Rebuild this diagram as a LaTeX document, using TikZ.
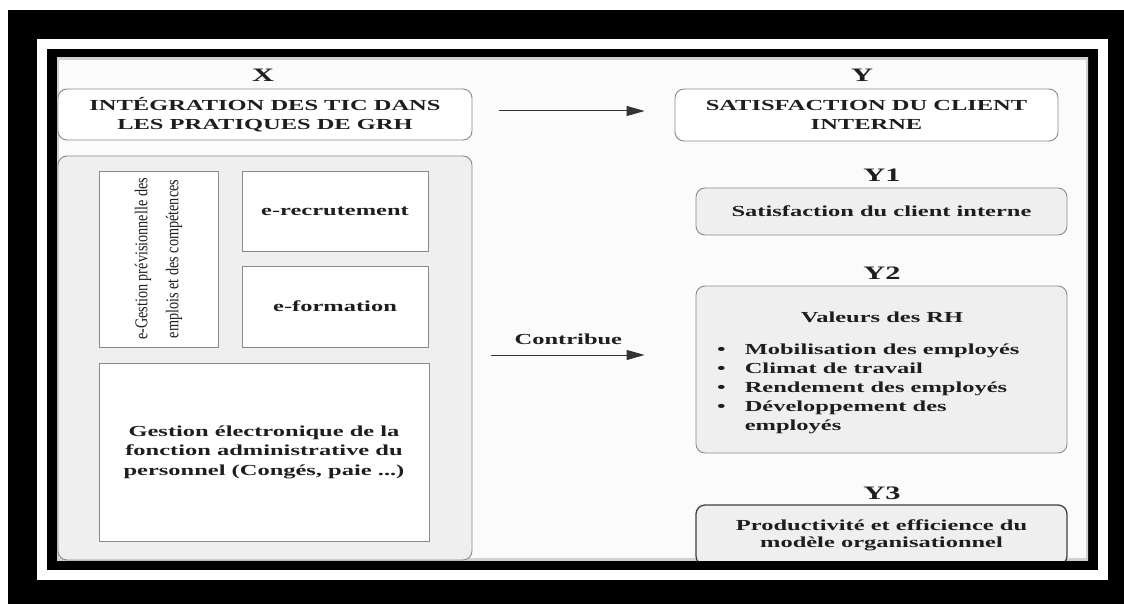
\documentclass[tikz,border=0pt]{standalone}
\usepackage{fontspec}
\setmainfont{Liberation Serif}[FakeStretch=1.6]
\newfontfamily\condfont{Liberation Serif}[FakeStretch=0.79]
\usetikzlibrary{arrows.meta}
\definecolor{txt}{HTML}{1E1E1E}
\definecolor{bord}{HTML}{8A8A8A}
\definecolor{boxgray}{HTML}{EFEFEF}
\definecolor{content}{HTML}{FBFBFB}
\begin{document}
\begin{tikzpicture}[x=1pt,y=-1pt,
  every node/.style={font=\bfseries\fontsize{15.3}{18.5}\selectfont, text=txt, inner sep=0pt},
  lbl/.style={font=\bfseries\fontsize{19}{22}\selectfont},
  hdr/.style={draw=bord, line width=0.9pt, fill=white, rounded corners=9pt, align=center},
  contbox/.style={draw=bord, line width=0.9pt, fill=boxgray, rounded corners=9pt},
  wbox/.style={draw=bord, line width=0.9pt, fill=white, align=center},
  gbox/.style={draw=bord, line width=0.9pt, fill=boxgray, rounded corners=9pt, align=center},
  gboxd/.style={draw=black!75, line width=1.3pt, fill=boxgray, rounded corners=9pt, align=center},
  arr/.style={draw=black!80, line width=1pt, -{Triangle[length=18pt,width=10pt]}}
]
\useasboundingbox (0,0) rectangle (1124,604);
\fill[white] (0,0) rectangle (1124,604);
\fill[black] (8,10) rectangle (1124,604);
\fill[white] (37,39) rectangle (1108,580);
\fill[black] (47,49) rectangle (1098,570);
\fill[content] (57,58) rectangle (1088,560);
\begin{scope}
\clip (57,58) rectangle (1088,560);
\draw[black!18, line width=4pt] (57,58) rectangle (1088,560);

% left column
\node[lbl] (xl) at (263,75) {X};
\node[hdr, minimum width=414pt, minimum height=51pt] (hx) at (265,114.5)
  {INTÉGRATION DES TIC DANS\\LES PRATIQUES DE GRH};
\node[contbox, minimum width=414pt, minimum height=404pt] (cont) at (265,358) {};
\node[wbox, rotate=90, minimum width=176pt, minimum height=119pt,
  font=\condfont\fontsize{18}{31}\selectfont] (gpec) at (158.5,259)
  {e-Gestion prévisionnelle des\\emplois et des compétences};
\node[wbox, minimum width=186pt, minimum height=80pt] (recr) at (335,211) {e-recrutement};
\node[wbox, minimum width=186pt, minimum height=81pt] (form) at (335,306.5) {e-formation};
\node[wbox, minimum width=330pt, minimum height=178pt, font=\bfseries\fontsize{15.3}{19.5}\selectfont] (gest) at (264,452)
  {Gestion électronique de la\\fonction administrative du\\personnel (Congés, paie ...)};

% right column
\node[lbl] (yl) at (862,75) {Y};
\node[hdr, minimum width=383pt, minimum height=52pt] (hy) at (866.5,115)
  {SATISFACTION DU CLIENT\\INTERNE};
\node[lbl] (y1l) at (882,175) {Y1};
\node[gbox, minimum width=371pt, minimum height=47pt] (y1) at (881.5,211.5) {Satisfaction du client interne};
\node[lbl] (y2l) at (882,273) {Y2};
\node[gbox, minimum width=371pt, minimum height=167pt] (y2) at (881.5,369.5) {};
\node (vrh) at (882,317) {Valeurs des RH};
\node[anchor=west, font=\bfseries\fontsize{15.3}{19}\selectfont] (list) at (717,389)
  {\begin{tabular}{@{}l@{\hspace{19pt}}l@{}}
   \textbullet & Mobilisation des employés\\
   \textbullet & Climat de travail\\
   \textbullet & Rendement des employés\\
   \textbullet & Développement des\\
               & employés
   \end{tabular}};
\node[lbl] (y3l) at (882,493) {Y3};
\node[gboxd, minimum width=371pt, minimum height=60pt, font=\bfseries\fontsize{15.3}{17}\selectfont] (y3) at (881.5,535)
  {Productivité et efficience du\\modèle organisationnel};

% connectors
\draw[arr, shorten <=27pt, shorten >=30pt] ([yshift=3.5pt]hx.east) -- ([yshift=3.5pt]hx.east -| hy.west);
\draw[arr, shorten <=19pt, shorten >=51pt] ([yshift=3pt]cont.east) -- ([yshift=3pt]cont.east -| y2.west)
  node[pos=0.43, anchor=south, yshift=10pt] (contrib) {Contribue};
\end{scope}
\end{tikzpicture}
\end{document}
